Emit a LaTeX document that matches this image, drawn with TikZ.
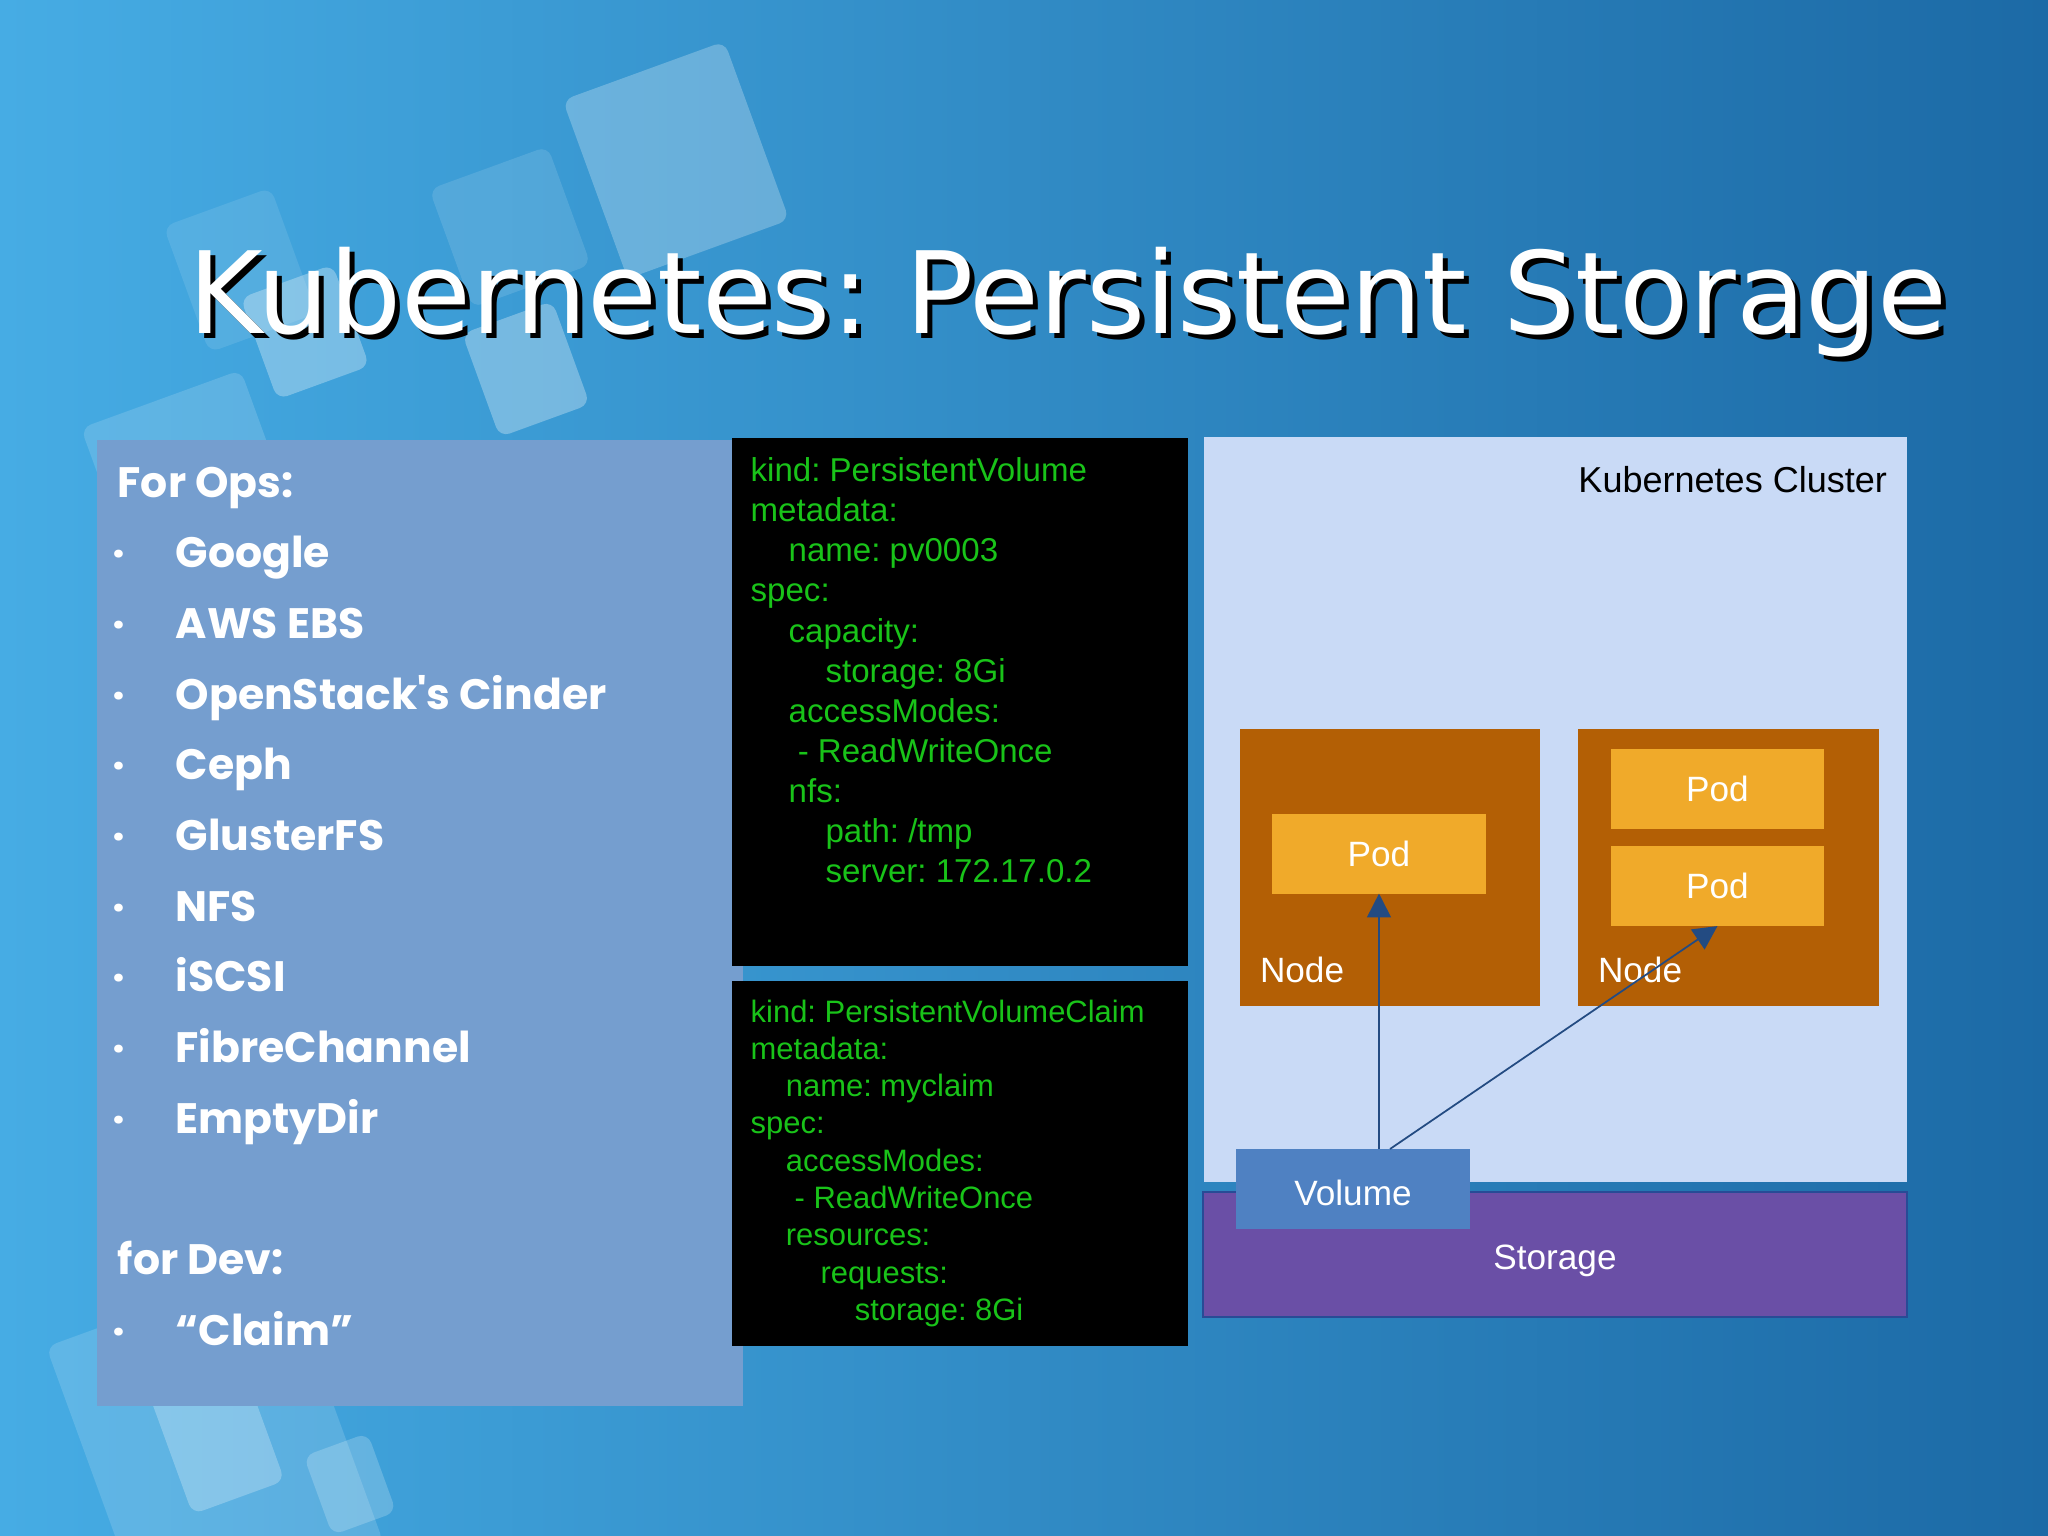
\documentclass[tikz,border=0pt]{standalone}
\usepackage{fontspec}
\setmainfont{Liberation Sans}
\newfontfamily\titlefont{DejaVu Sans}
\newfontfamily\listfont{Poppins}
\usetikzlibrary{arrows.meta}
\frenchspacing

\definecolor{bgleft}{RGB}{70,172,228}
\definecolor{bgright}{RGB}{28,106,166}
\definecolor{opsblue}{RGB}{117,158,207}
\definecolor{codegreen}{RGB}{25,195,25}
\definecolor{clusterblue}{RGB}{201,218,246}
\definecolor{storagepurple}{RGB}{106,79,166}
\definecolor{storageedge}{RGB}{40,75,150}
\definecolor{volblue}{RGB}{79,129,194}
\definecolor{nodebrown}{RGB}{179,95,5}
\definecolor{podorange}{RGB}{240,170,42}
\definecolor{arrowblue}{RGB}{35,75,130}

\begin{document}
\begin{tikzpicture}[x=0.01cm,y=-0.01cm,
    box/.style={inner sep=0pt,outer sep=0pt},
    pod/.style={box,fill=podorange,text=white,minimum width=2.13cm,minimum height=0.8cm},
    worker/.style={box,fill=nodebrown,minimum width=3cm,minimum height=2.77cm},
    code/.style={anchor=north west,inner sep=0pt,align=left,text=codegreen},
    link/.style={draw=arrowblue,line width=0.5pt,-{Triangle[width=6.8pt,length=6.8pt]}},
    deco/.style={fill=white,rounded corners=3pt}]
    \useasboundingbox (0,0) rectangle (2048,1535);
    \shade[left color=bgleft,right color=bgright] (0,0) rectangle (2048,1535);

    \fill[deco,opacity=0.25,rotate around={20:(676,160)}] (590,65) rectangle (762,255);
    \fill[deco,opacity=0.12,rotate around={20:(510,227)}] (447,164) rectangle (573,290);
    \fill[deco,opacity=0.10,rotate around={20:(240,270)}] (183,203) rectangle (297,337);
    \fill[deco,opacity=0.30,rotate around={20:(305,332)}] (256,278) rectangle (354,386);
    \fill[deco,opacity=0.30,rotate around={20:(526,369)}] (478,314) rectangle (574,424);
    \fill[deco,opacity=0.15,rotate around={20:(195,493)}] (110,393) rectangle (280,593);
    \fill[deco,opacity=0.15,rotate around={20:(215,1445)}] (90,1295) rectangle (340,1595);
    \fill[deco,opacity=0.25,rotate around={20:(213,1427)}] (164,1352) rectangle (262,1502);
    \fill[deco,opacity=0.20,rotate around={20:(350,1484)}] (316,1442) rectangle (384,1526);

    \node[anchor=base,text=black,font=\titlefont\fontsize{32.3}{38}\selectfont] (titleshadow) at (1073,338) {Kubernetes: Persistent Storage};
    \node[anchor=base,text=white,font=\titlefont\fontsize{32.3}{38}\selectfont] (title) at (1068,333) {Kubernetes: Persistent Storage};

    \node[box,fill=opsblue,minimum width=6.46cm,minimum height=9.66cm] (ops) at (420,923) {};
    \node[anchor=north west,inner sep=0pt,align=left,text=white,font=\listfont\bfseries\fontsize{12.1}{20.1}\selectfont] (opslist) at (117,466) {For Ops:\\
        \makebox[16.5pt][l]{\hspace*{-1.5pt}·}Google\\
        \makebox[16.5pt][l]{\hspace*{-1.5pt}·}AWS EBS\\
        \makebox[16.5pt][l]{\hspace*{-1.5pt}·}OpenStack's Cinder\\
        \makebox[16.5pt][l]{\hspace*{-1.5pt}·}Ceph\\
        \makebox[16.5pt][l]{\hspace*{-1.5pt}·}GlusterFS\\
        \makebox[16.5pt][l]{\hspace*{-1.5pt}·}NFS\\
        \makebox[16.5pt][l]{\hspace*{-1.5pt}·}iSCSI\\
        \makebox[16.5pt][l]{\hspace*{-1.5pt}·}FibreChannel\\
        \makebox[16.5pt][l]{\hspace*{-1.5pt}·}EmptyDir\\[20.1pt]
        for Dev:\\
        \makebox[16.5pt][l]{\hspace*{-1.5pt}·}“Claim”};

    \node[box,fill=black,minimum width=4.56cm,minimum height=5.28cm] (pv) at (960,702) {};
    \node[code,font=\fontsize{9.4}{11.4}\selectfont] (pvtext) at (750,457) {kind: PersistentVolume\\
        metadata:\\
        \hspace*{10.8pt}name: pv0003\\
        spec:\\
        \hspace*{10.8pt}capacity:\\
        \hspace*{21.3pt}storage: 8Gi\\
        \hspace*{10.8pt}accessModes:\\
        \hspace*{13.4pt}- ReadWriteOnce\\
        \hspace*{10.8pt}nfs:\\
        \hspace*{21.3pt}path: /tmp\\
        \hspace*{21.3pt}server: 172.17.0.2};

    \node[box,fill=black,minimum width=4.56cm,minimum height=3.65cm] (pvc) at (960,1163.5) {};
    \node[code,font=\fontsize{8.8}{10.6}\selectfont] (pvctext) at (750,999) {kind: PersistentVolumeClaim\\
        metadata:\\
        \hspace*{10pt}name: myclaim\\
        spec:\\
        \hspace*{10pt}accessModes:\\
        \hspace*{12.5pt}- ReadWriteOnce\\
        \hspace*{10pt}resources:\\
        \hspace*{19.9pt}requests:\\
        \hspace*{29.6pt}storage: 8Gi};

    \node[box,fill=clusterblue,minimum width=7.03cm,minimum height=7.45cm] (cluster) at (1555.5,809.5) {};
    \node[box,anchor=base east,font=\fontsize{10.25}{12}\selectfont] (clustertext) at (1887,492) {Kubernetes Cluster};
    \node[box,fill=storagepurple,draw=storageedge,line width=0.6pt,minimum width=7.04cm,minimum height=1.25cm,text=white,text height=8.7pt,text depth=0pt] (storage) at (1555,1254.5) {Storage};

    \node[worker] (node1) at (1390,867.5) {};
    \node[worker] (node2) at (1728.5,867.5) {};
    \node[box,anchor=base west,text=white] (node1label) at (1260,982) {Node};
    \node[box,anchor=base west,text=white] (node2label) at (1598,982) {Node};
    \node[pod] (pod1) at (1379,853.5) {Pod};
    \node[pod] (pod2) at (1717.5,789) {Pod};
    \node[pod] (pod3) at (1717.5,886) {Pod};

    \node[box,fill=volblue,minimum width=2.33cm,minimum height=0.8cm,text=white,text height=9.1pt,text depth=0pt] (vol) at (1353,1189) {Volume};
    \draw[link] (vol.north -| pod1.south) -- (pod1.south);
    \draw[link] ([xshift=0.37cm]vol.north) -- (pod3.south);
\end{tikzpicture}
\end{document}
